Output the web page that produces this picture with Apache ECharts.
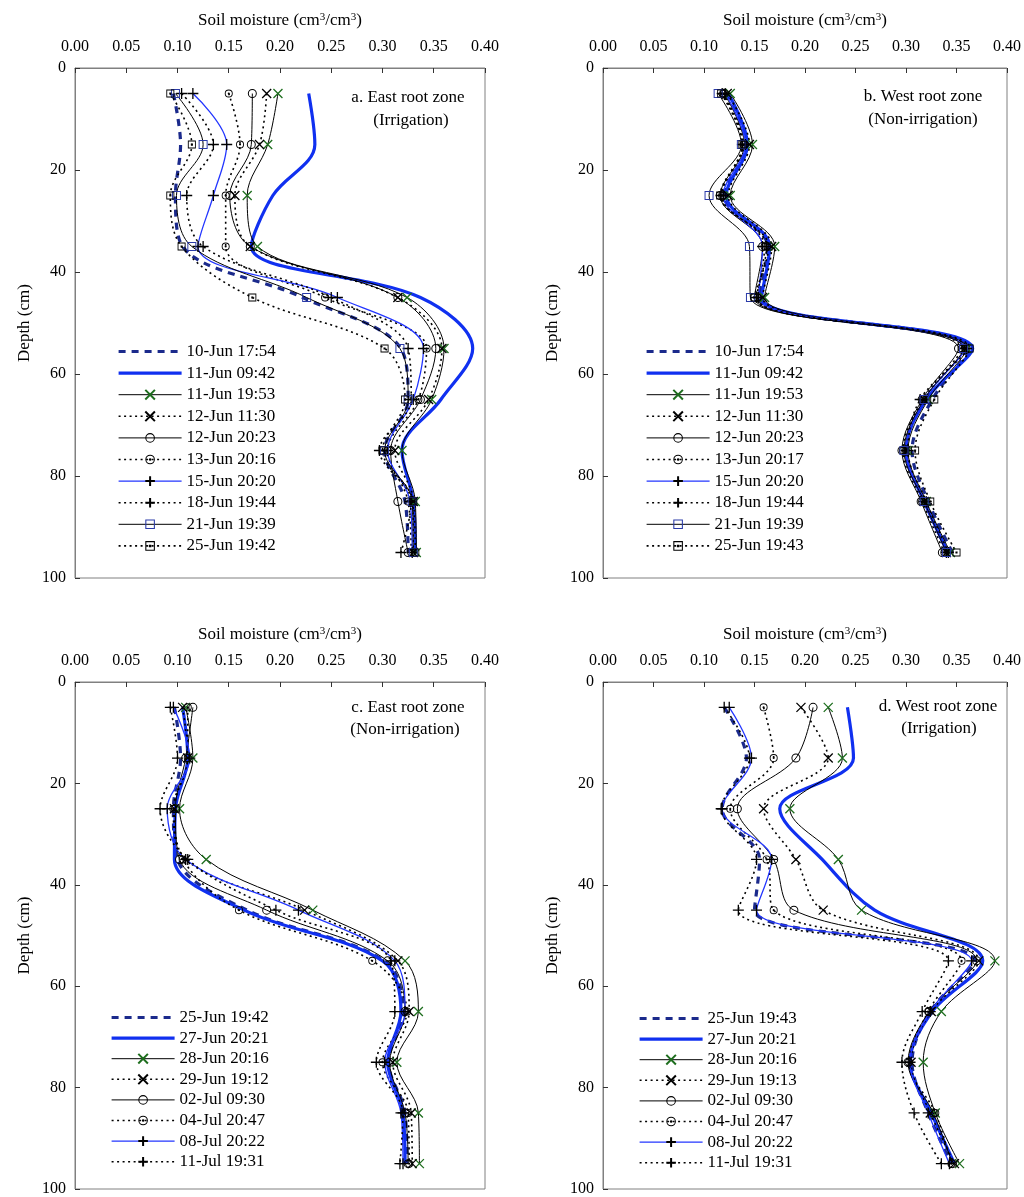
<!DOCTYPE html>
<html>
<head>
<meta charset="utf-8">
<script src="https://cdn.jsdelivr.net/npm/echarts@6/dist/echarts.min.js"></script>
<style>
  html, body { margin: 0; padding: 0; background: #fff; }
  #soilChart { width: 1024px; height: 1197px; }
</style>
</head>
<body>
<div id="soilChart"></div>
<script>
// depth of the sensors (cm)
var depths = [5, 15, 25, 35, 45, 55, 65, 75, 85, 95];
var moistureTicks = [0, 0.05, 0.10, 0.15, 0.20, 0.25, 0.30, 0.35, 0.40];

// a. East root zone (Irrigation)
var namesA = ['10-Jun 17:54', '11-Jun 09:42', '11-Jun 19:53', '12-Jun 11:30', '12-Jun 20:23',
              '13-Jun 20:16', '15-Jun 20:20', '18-Jun 19:44', '21-Jun 19:39', '25-Jun 19:42'];
var valuesA = [
    [0.096, 0.103, 0.098, 0.105, 0.222, 0.318, 0.325, 0.302, 0.322, 0.325],
    [0.228, 0.234, 0.193, 0.172, 0.337, 0.388, 0.357, 0.319, 0.330, 0.332],
    [0.198, 0.188, 0.168, 0.178, 0.324, 0.360, 0.348, 0.319, 0.332, 0.333],
    [0.187, 0.180, 0.156, 0.171, 0.315, 0.358, 0.345, 0.312, 0.330, 0.330],
    [0.173, 0.172, 0.151, 0.171, 0.315, 0.352, 0.337, 0.308, 0.315, 0.325],
    [0.150, 0.161, 0.147, 0.147, 0.244, 0.343, 0.335, 0.305, 0.325, 0.328],
    [0.115, 0.148, 0.135, 0.120, 0.256, 0.340, 0.330, 0.305, 0.327, 0.329],
    [0.104, 0.135, 0.109, 0.125, 0.250, 0.325, 0.328, 0.297, 0.328, 0.318],
    [0.098, 0.125, 0.099, 0.114, 0.226, 0.317, 0.325, 0.302, 0.329, 0.330],
    [0.093, 0.114, 0.093, 0.104, 0.173, 0.302, 0.322, 0.300, 0.330, 0.332]
];

// b. West root zone (Non-irrigation)
var namesB = ['10-Jun 17:54', '11-Jun 09:42', '11-Jun 19:53', '12-Jun 11:30', '12-Jun 20:23',
              '13-Jun 20:17', '15-Jun 20:20', '18-Jun 19:44', '21-Jun 19:39', '25-Jun 19:43'];
var valuesB = [
    [0.122, 0.142, 0.120, 0.163, 0.155, 0.362, 0.326, 0.306, 0.322, 0.346],
    [0.124, 0.143, 0.122, 0.165, 0.157, 0.366, 0.320, 0.300, 0.318, 0.342],
    [0.126, 0.148, 0.126, 0.170, 0.160, 0.360, 0.322, 0.302, 0.320, 0.344],
    [0.123, 0.145, 0.124, 0.167, 0.158, 0.358, 0.318, 0.300, 0.318, 0.340],
    [0.120, 0.140, 0.116, 0.158, 0.150, 0.352, 0.316, 0.296, 0.315, 0.336],
    [0.119, 0.139, 0.118, 0.160, 0.153, 0.355, 0.317, 0.297, 0.316, 0.338],
    [0.121, 0.141, 0.119, 0.158, 0.154, 0.358, 0.318, 0.300, 0.318, 0.340],
    [0.118, 0.138, 0.117, 0.162, 0.152, 0.360, 0.314, 0.302, 0.320, 0.342],
    [0.114, 0.137, 0.105, 0.145, 0.146, 0.357, 0.318, 0.298, 0.318, 0.340],
    [0.117, 0.138, 0.116, 0.164, 0.150, 0.363, 0.328, 0.309, 0.324, 0.350]
];

// c. East root zone (Non-irrigation)
var namesC = ['25-Jun 19:42', '27-Jun 20:21', '28-Jun 20:16', '29-Jun 19:12',
              '02-Jul 09:30', '04-Jul 20:47', '08-Jul 20:22', '11-Jul 19:31'];
var valuesC = [
    [0.097, 0.103, 0.096, 0.100, 0.168, 0.302, 0.320, 0.306, 0.322, 0.324],
    [0.105, 0.110, 0.098, 0.097, 0.165, 0.300, 0.318, 0.305, 0.320, 0.322],
    [0.108, 0.115, 0.102, 0.128, 0.232, 0.322, 0.335, 0.314, 0.335, 0.336],
    [0.105, 0.110, 0.097, 0.108, 0.224, 0.315, 0.326, 0.310, 0.328, 0.329],
    [0.115, 0.108, 0.098, 0.102, 0.187, 0.305, 0.322, 0.307, 0.322, 0.325],
    [0.110, 0.110, 0.096, 0.105, 0.160, 0.290, 0.324, 0.300, 0.325, 0.326],
    [0.096, 0.112, 0.090, 0.108, 0.218, 0.312, 0.322, 0.302, 0.318, 0.320],
    [0.093, 0.100, 0.083, 0.110, 0.196, 0.308, 0.312, 0.294, 0.320, 0.317]
];

// d. West root zone (Irrigation)
var namesD = ['25-Jun 19:43', '27-Jun 20:21', '28-Jun 20:16', '29-Jun 19:13',
              '02-Jul 09:30', '04-Jul 20:47', '08-Jul 20:22', '11-Jul 19:31'];
var valuesD = [
    [0.120, 0.142, 0.118, 0.155, 0.150, 0.368, 0.324, 0.306, 0.322, 0.345],
    [0.242, 0.248, 0.175, 0.217, 0.269, 0.376, 0.326, 0.304, 0.325, 0.348],
    [0.223, 0.237, 0.185, 0.233, 0.256, 0.388, 0.335, 0.317, 0.329, 0.353],
    [0.196, 0.223, 0.159, 0.191, 0.218, 0.372, 0.325, 0.305, 0.324, 0.348],
    [0.208, 0.191, 0.133, 0.169, 0.189, 0.370, 0.323, 0.302, 0.327, 0.346],
    [0.159, 0.169, 0.126, 0.162, 0.169, 0.355, 0.322, 0.303, 0.329, 0.345],
    [0.125, 0.147, 0.118, 0.167, 0.152, 0.365, 0.324, 0.304, 0.322, 0.343],
    [0.120, 0.145, 0.117, 0.152, 0.134, 0.342, 0.316, 0.296, 0.308, 0.335]
];

var FONT = '"Liberation Serif", "Times New Roman", serif';

// marker shapes
var SYM_X = 'path://M-5,-5L5,5M5,-5L-5,5';
var SYM_PLUS = 'path://M0,-5L0,5M-5,0L5,0';
var SYM_RING = 'path://M0,-5A5,5 0 1,1 0,5A5,5 0 1,1 0,-5ZM0,-3.9A3.9,3.9 0 1,0 0,3.9A3.9,3.9 0 1,0 0,-3.9Z';
var SYM_RINGDOT = SYM_RING + 'M0,-1.3A1.3,1.3 0 1,1 0,1.3A1.3,1.3 0 1,1 0,-1.3Z';
var SYM_SQ = 'path://M-5,-5L5,-5L5,5L-5,5ZM-3.9,-3.9L-3.9,3.9L3.9,3.9L3.9,-3.9Z';
var SYM_SQDOT = SYM_SQ + 'M-1.3,-1.3L1.3,-1.3L1.3,1.3L-1.3,1.3Z';

var DOTS = [2, 3.5];
var strokeMark = function (c) { return { color: c, borderColor: c, borderWidth: 1.3 }; };
var fillMark = function (c) { return { color: c, borderWidth: 0 }; };
var noMark = { color: 'rgba(0,0,0,0)', borderWidth: 0 };

var styles = [
    { symbol: 'none', line: '#1b2a8c', width: 3.2, type: [7, 6], item: noMark },
    { symbol: 'none', line: '#1030f0', width: 3.2, type: 'solid', item: noMark },
    { symbol: SYM_X, size: 9, line: '#000', width: 1, type: 'solid', item: strokeMark('#1e6e1e') },
    { symbol: SYM_X, size: 9, line: '#000', width: 1.6, type: DOTS, item: strokeMark('#000') },
    { symbol: SYM_RING, size: 9, line: '#000', width: 1, type: 'solid', item: fillMark('#000') },
    { symbol: SYM_RINGDOT, size: 8, line: '#000', width: 1.6, type: DOTS, item: fillMark('#000') },
    { symbol: SYM_PLUS, size: 11, line: '#2336ff', width: 1.3, type: 'solid', item: strokeMark('#000') },
    { symbol: SYM_PLUS, size: 11, line: '#000', width: 1.6, type: DOTS, item: strokeMark('#000') },
    { symbol: SYM_SQ, size: 9, line: '#000', width: 1, type: 'solid', item: fillMark('#2a3aa8') },
    { symbol: SYM_SQDOT, size: 8, line: '#000', width: 1.6, type: DOTS, item: fillMark('#000') }
];

function buildSeries(tag, idx, names, values) {
    return names.map(function (n, i) {
        var st = styles[i];
        return {
            type: 'line',
            name: tag + '|' + n,
            xAxisIndex: idx,
            yAxisIndex: idx,
            data: values[i].map(function (v, k) { return [v, depths[k]]; }),
            smooth: 0.35,
            symbol: st.symbol,
            symbolSize: st.size || 4,
            showSymbol: st.symbol !== 'none',
            lineStyle: { color: st.line, width: st.width, type: st.type },
            itemStyle: st.item,
            silent: true,
            animation: false
        };
    });
}

var grids = [
    { left: 75, top: 68, width: 410, height: 510 },
    { left: 603, top: 68, width: 412, height: 510 },
    { left: 75, top: 682, width: 410, height: 510 },
    { left: 603, top: 682, width: 412, height: 510 }
];

var xAxes = grids.map(function (g, i) {
    return {
        gridIndex: i, type: 'value', position: 'top',
        min: moistureTicks[0], max: moistureTicks[moistureTicks.length - 1], interval: 0.05,
        axisLine: { show: true, lineStyle: { color: '#808080' } },
        axisTick: { inside: true, length: 5, lineStyle: { color: '#333' } },
        axisLabel: { color: '#000', fontFamily: FONT, fontSize: 16, margin: 13,
                     formatter: function (v) { return v.toFixed(2); } },
        splitLine: { show: false },
        name: 'Soil moisture (cm{sup|3}/cm{sup|3})',
        nameLocation: 'middle', nameGap: 38,
        nameTextStyle: { color: '#000', fontFamily: FONT, fontSize: 17, lineHeight: 18,
                         rich: { sup: { fontFamily: FONT, fontSize: 11, lineHeight: 10, verticalAlign: 'top' } } }
    };
});

var yAxes = grids.map(function (g, i) {
    return {
        gridIndex: i, type: 'value', inverse: true, min: 0, max: 100, interval: 20,
        axisLine: { show: true, lineStyle: { color: '#808080' } },
        axisTick: { inside: true, length: 5, lineStyle: { color: '#333' } },
        axisLabel: { color: '#000', fontFamily: FONT, fontSize: 16, margin: 9 },
        splitLine: { show: false },
        name: 'Depth (cm)', nameLocation: 'middle', nameGap: 42,
        nameTextStyle: { color: '#000', fontFamily: FONT, fontSize: 17 }
    };
});

function legendFor(tag, names, left, top, gap) {
    return {
        orient: 'vertical', left: left, top: top, padding: 0,
        itemWidth: 63, itemHeight: 12, itemGap: gap,
        selectedMode: false,
        lineStyle: { width: 'inherit' },
        data: names.map(function (n) { return tag + '|' + n; }),
        formatter: function (name) { return name.split('|')[1]; },
        textStyle: { color: '#000', fontFamily: FONT, fontSize: 17, lineHeight: 17 }
    };
}

function panelLabel(x, y, text) {
    return {
        type: 'text', x: x, y: y, silent: true,
        style: { text: text, textAlign: 'center', textVerticalAlign: 'middle',
                 font: '17px ' + FONT, fill: '#000' }
    };
}

var soilChart = echarts.init(document.getElementById('soilChart'));

var soilOption = {
    backgroundColor: '#fff',
    animation: false,
    grid: grids.map(function (g) {
        return Object.assign({ show: true, borderColor: '#808080', borderWidth: 1, containLabel: false }, g);
    }),
    xAxis: xAxes,
    yAxis: yAxes,
    legend: [
        legendFor('a', namesA, 117, 343, 4.6),
        legendFor('b', namesB, 645, 343, 4.6),
        legendFor('c', namesC, 110, 1009, 3.6),
        legendFor('d', namesD, 638, 1010, 3.6)
    ],
    graphic: [
        panelLabel(408, 98, 'a. East root zone'),
        panelLabel(411, 121, '(Irrigation)'),
        panelLabel(923, 97, 'b. West root zone'),
        panelLabel(923, 120, '(Non-irrigation)'),
        panelLabel(408, 708, 'c. East root zone'),
        panelLabel(405, 730, '(Non-irrigation)'),
        panelLabel(938, 707, 'd. West root zone'),
        panelLabel(939, 729, '(Irrigation)')
    ],
    series: [].concat(
        buildSeries('a', 0, namesA, valuesA),
        buildSeries('b', 1, namesB, valuesB),
        buildSeries('c', 2, namesC, valuesC),
        buildSeries('d', 3, namesD, valuesD)
    )
};

soilChart.setOption(soilOption);
</script>
</body>
</html>
